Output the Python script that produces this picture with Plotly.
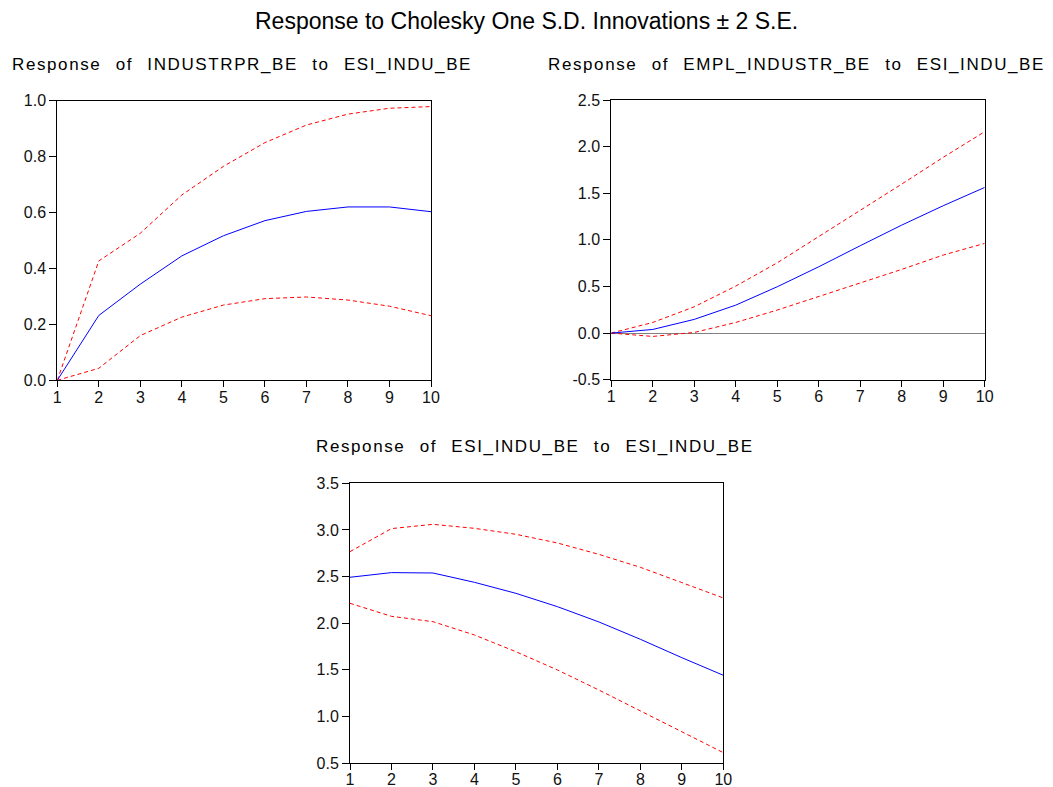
import plotly.graph_objects as go

periods = list(range(1, 11))

# Response of INDUSTRPR_BE to ESI_INDU_BE
p1_resp = [0.0, 0.232, 0.344, 0.445, 0.517, 0.571, 0.604, 0.620, 0.620, 0.603]
p1_up = [0.0, 0.427, 0.526, 0.663, 0.765, 0.850, 0.913, 0.952, 0.973, 0.979]
p1_lo = [0.0, 0.043, 0.160, 0.226, 0.269, 0.292, 0.298, 0.287, 0.265, 0.231]

# Response of EMPL_INDUSTR_BE to ESI_INDU_BE
p2_resp = [0.0, 0.039, 0.147, 0.300, 0.497, 0.711, 0.937, 1.158, 1.366, 1.562]
p2_up = [0.0, 0.114, 0.282, 0.504, 0.754, 1.033, 1.312, 1.598, 1.885, 2.160]
p2_lo = [0.0, -0.036, 0.007, 0.114, 0.247, 0.390, 0.540, 0.683, 0.837, 0.962]

# Response of ESI_INDU_BE to ESI_INDU_BE
p3_resp = [2.492, 2.542, 2.538, 2.438, 2.320, 2.177, 2.013, 1.827, 1.630, 1.441]
p3_up = [2.767, 3.014, 3.060, 3.017, 2.953, 2.860, 2.738, 2.599, 2.435, 2.270]
p3_lo = [2.213, 2.073, 2.016, 1.873, 1.694, 1.498, 1.283, 1.061, 0.832, 0.611]

y1_ticks = [0.0, 0.2, 0.4, 0.6, 0.8, 1.0]
y2_ticks = [-0.5, 0.0, 0.5, 1.0, 1.5, 2.0, 2.5]
y3_ticks = [0.5, 1.0, 1.5, 2.0, 2.5, 3.0, 3.5]

titles = ["Response of INDUSTRPR_BE to ESI_INDU_BE",
          "Response of EMPL_INDUSTR_BE to ESI_INDU_BE",
          "Response of ESI_INDU_BE to ESI_INDU_BE"]
main_title = "Response to Cholesky One S.D. Innovations \u00b1 2 S.E."

W, H = 1053, 787
FONT = "Liberation Sans, Arial, sans-serif"

fig = go.Figure()

panels = [
    (p1_resp, p1_up, p1_lo, "x", "y"),
    (p2_resp, p2_up, p2_lo, "x2", "y2"),
    (p3_resp, p3_up, p3_lo, "x3", "y3"),
]
for resp, up, lo, xa, ya in panels:
    fig.add_trace(go.Scatter(x=periods, y=up, mode="lines", xaxis=xa, yaxis=ya,
                             line=dict(color="#ff0000", width=1, dash="4px,3px"), showlegend=False))
    fig.add_trace(go.Scatter(x=periods, y=lo, mode="lines", xaxis=xa, yaxis=ya,
                             line=dict(color="#ff0000", width=1, dash="4px,3px"), showlegend=False))
    fig.add_trace(go.Scatter(x=periods, y=resp, mode="lines", xaxis=xa, yaxis=ya,
                             line=dict(color="#0000ff", width=1), showlegend=False))

def xd(a, b):
    return [a / W, b / W]

def yd(top, bot):
    return [1 - bot / H, 1 - top / H]

axis_common = dict(showline=True, linecolor="black", linewidth=1, mirror=True,
                   ticks="outside", ticklen=6, tickcolor="black", showgrid=False,
                   zeroline=False, automargin=False,
                   tickfont=dict(family=FONT, size=16, color="#111111"))

x_common = dict(axis_common, range=[1, 10], tickvals=periods,
                ticktext=[str(p) for p in periods], ticklabelstandoff=-4)

def ycfg(ticks, domain, anchor, **kw):
    d = dict(axis_common, domain=domain, range=[ticks[0], ticks[-1]], ticklen=7,
             tickvals=ticks, ticktext=["%.1f" % t for t in ticks], anchor=anchor)
    d.update(kw)
    return d

fig.update_layout(
    width=W, height=H, autosize=False,
    margin=dict(l=0, r=0, t=0, b=0, pad=0),
    paper_bgcolor="white", plot_bgcolor="white",
    font=dict(family=FONT, color="black"),
    xaxis=dict(x_common, domain=xd(57.3, 431), anchor="y"),
    yaxis=ycfg(y1_ticks, yd(100.7, 380.3), "x"),
    xaxis2=dict(x_common, domain=xd(611.3, 984.7), anchor="y2"),
    yaxis2=ycfg(y2_ticks, yd(100, 379.7), "x2",
                zeroline=True, zerolinecolor="#808080", zerolinewidth=1),
    xaxis3=dict(x_common, domain=xd(350, 723.3), anchor="y3"),
    yaxis3=ycfg(y3_ticks, yd(483.3, 763), "x3"),
)

sub_style = "letter-spacing:1.6px;word-spacing:8px"
ann = [
    (main_title, 526, 20.5, 23, None),
    (titles[0], 241.5, 65, 17, sub_style),
    (titles[1], 796, 65, 17, sub_style),
    (titles[2], 535, 447, 17, sub_style),
]
for text, cx, cy, size, style in ann:
    t = text if style is None else '<span style="%s">%s</span>' % (style, text)
    fig.add_annotation(text=t, x=cx / W, y=1 - cy / H, xref="paper", yref="paper",
                       xanchor="center", yanchor="middle", showarrow=False,
                       font=dict(family=FONT, size=size, color="black"))

fig.write_html("out.html", config={"displayModeBar": False},
               post_script="document.body.style.margin='0';document.body.style.overflow='hidden';")
